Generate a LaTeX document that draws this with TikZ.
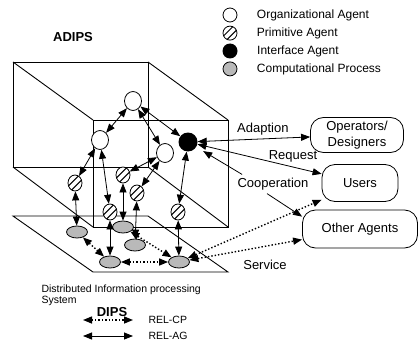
\documentclass[tikz,border=0pt]{standalone}
\usepackage{fontspec}
\setmainfont{Liberation Sans}
\usetikzlibrary{arrows.meta, positioning, shapes.geometric}

\begin{document}
\begin{tikzpicture}[
    x=1pt, y=-1pt,
    font=\fontsize{12}{14}\selectfont,
    >={Triangle[length=9pt, width=7pt]},
    every node/.style={align=center},
    orgagent/.style={draw, thick, ellipse, fill=white, inner sep=0pt,
                     minimum width=17pt, minimum height=19pt},
    primagent/.style={draw, thick, ellipse, fill=white, inner sep=0pt,
                      minimum width=14pt, minimum height=16pt,
                      path picture={\draw[line width=1pt]
                        ([shift={(-7.8pt,-4.2pt)}]path picture bounding box.center) -- ++(12pt,12pt)
                        ([shift={(-4.2pt,-7.8pt)}]path picture bounding box.center) -- ++(12pt,12pt);}},
    ifagent/.style={circle, fill=black, inner sep=0pt, minimum size=19pt},
    compproc/.style={draw, thick, ellipse, fill=gray!55, inner sep=0pt,
                     minimum width=21pt, minimum height=12pt},
    outside/.style={draw, thick, rounded corners=13pt, inner sep=2pt,
                    font=\fontsize{13}{15.5}\selectfont},
    lbl/.style={font=\fontsize{13}{15}\selectfont},
    relag/.style={<->, thick},
    relcp/.style={<->, dotted, line width=1.4pt}
]
\useasboundingbox (0,0) rectangle (420,345);

%-------------------------------
% 1) ADIPS cube and DIPS plane
%-------------------------------
\node[font=\bfseries\fontsize{13}{13}\selectfont] (adips) at (73,37) {ADIPS};

\draw[line width=0.9pt] (13,62) rectangle (148,167);
\draw[line width=0.9pt] (93,120) rectangle (228,227);
\draw[line width=0.9pt] (13,62) -- (93,120) (148,62) -- (228,120)
    (148,167) -- (228,227) (13,167) -- (93,227);
\draw[line width=0.9pt] (13,216) -- (148,216) -- (228,272) -- (93,272) -- cycle;

%-------------------------------
% 2) Agents and processes
%-------------------------------
\node[orgagent] (otop) at (133,101) {};
\node[orgagent] (oleft) at (100,140) {};
\node[orgagent] (oright) at (165,153) {};
\node[ifagent] (iface) at (188,142) {};

\node[primagent] (p1) at (75,183) {};
\node[primagent] (p2) at (123,175) {};
\node[primagent] (p3) at (137,193) {};
\node[primagent] (p4) at (110,212) {};
\node[primagent] (p5) at (178,212) {};

\node[compproc] (c1) at (77,232) {};
\node[compproc] (c2) at (123,227) {};
\node[compproc] (c3) at (135,245) {};
\node[compproc] (c4) at (110,262) {};
\node[compproc] (c5) at (179,262) {};

%-------------------------------
% 3) Outside world
%-------------------------------
\node[outside, minimum width=93pt, minimum height=35pt] (ops) at (357,135) {Operators/\\Designers};
\node[outside, minimum width=76pt, minimum height=37pt] (users) at (360,183) {Users};
\node[outside, minimum width=115pt, minimum height=38pt] (others) at (360,229) {Other Agents};

%-------------------------------
% 4) Legend (top right)
%-------------------------------
\node[orgagent, minimum width=14pt, minimum height=14pt] (legorg) at (230,15) {};
\node[primagent, minimum width=14pt, minimum height=14pt, below=3.3pt of legorg] (legprim) {};
\node[ifagent, minimum size=15pt, below=2.8pt of legprim] (legif) {};
\node[compproc, minimum width=14pt, minimum height=14pt, below=2.8pt of legif] (legcomp) {};

\node[right=16pt of legorg] (legorgtext) {Organizational Agent};
\node[right=16pt of legprim] (legprimtext) {Primitive Agent};
\node[right=16pt of legif] (legiftext) {Interface Agent};
\node[right=16pt of legcomp] (legcomptext) {Computational Process};

%-------------------------------
% 5) REL-AG arrows
%-------------------------------
\draw[relag] (otop) -- (oleft);
\draw[relag] (otop) -- (oright);
\draw[relag] (otop) -- (iface);
\draw[relag] (oleft) -- (p1);
\draw[relag] (oleft) -- (p4);
\draw[relag] (oright) -- (p2);
\draw[relag] (oright) -- (p3);
\draw[relag] (iface) -- (p5);
\draw[relag] (p1) -- (c1);
\draw[relag] (p2) -- (c2);
\draw[relag] (p3) -- (c3);
\draw[relag] (p4) -- (c4);
\draw[relag] (p5) -- (c5);

%-------------------------------
% 6) REL-CP arrows (dotted)
%-------------------------------
\draw[relcp] (c1) -- (c4);
\draw[relcp] (c4) -- (c5);
\draw[relcp] (c2) -- (c5);
\draw[relcp] (c5) -- (users);
\draw[relcp] (c5) -- (others);
\node[lbl] (service) at (265,265) {Service};

%-------------------------------
% 7) Interface agent to outside
%-------------------------------
\draw[relag] (iface) -- node[lbl, above, pos=0.58] {Adaption} (ops);
\draw[relag] (iface) -- node[lbl, above=1pt, pos=0.77] {Request} (users);
\node[lbl] (coop) at (273,184) {Cooperation};
\draw[->, thick, shorten >=8pt] ([xshift=8pt]coop.north west) -- (iface);
\draw[->, thick] ([xshift=-6pt]coop.south) -- ([yshift=-7pt]others.north west);

%-------------------------------
% 8) DIPS legend (bottom)
%-------------------------------
\node[anchor=north west, align=left, font=\fontsize{10.5}{11.5}\selectfont] (dipsdesc) at (38,281)
    {Distributed Information processing\\System};
\coordinate (cpleft) at (83,320);
\coordinate (cpright) at (133,320);
\draw[relcp] (cpleft) -- (cpright);
\node[font=\bfseries\fontsize{13}{13}\selectfont] (dips) at (112,312) {DIPS};
\node[right=12pt of cpright, font=\fontsize{10.5}{12}\selectfont] (cptext) {REL-CP};
\coordinate (agleft) at (83,336);
\coordinate (agright) at (133,336);
\draw[relag] (agleft) -- (agright);
\node[right=12pt of agright, font=\fontsize{10.5}{12}\selectfont] (agtext) {REL-AG};

\end{tikzpicture}
\end{document}
